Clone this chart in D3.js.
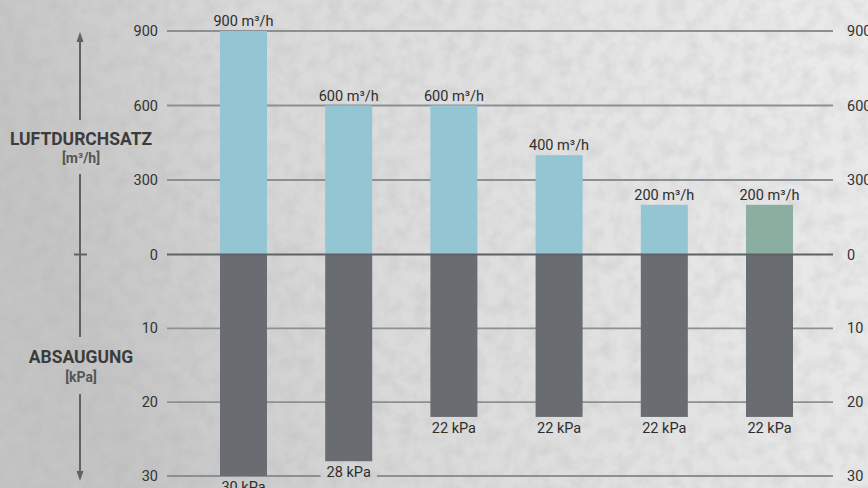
<!DOCTYPE html>
<html>
<head>
<meta charset="utf-8">
<script src="https://cdn.jsdelivr.net/npm/d3@7"></script>
<style>
  html, body { margin: 0; padding: 0; background: #dcdcdc; }
  svg { display: block; font-family: Roboto, "DejaVu Sans", sans-serif; }
</style>
</head>
<body>
<svg id="chart" width="868" height="488"></svg>
<script>
// Chart data
const models = ['m1', 'm2', 'm3', 'm4', 'm5', 'm6'];
const airflow = [900, 600, 600, 400, 200, 200];      // m³/h
const suction = [30, 28, 22, 22, 22, 22];            // kPa
const airflowTicks = [0, 300, 600, 900];
const suctionTicks = [10, 20, 30];
const highlighted = ['m6'];

const W = 868, H = 488;
const gridX0 = 167, gridX1 = 833, zeroY = 254.5;

const svg = d3.select('#chart');

// Scales
const x = d3.scalePoint().domain(models).range([243.5, 769.5]);
const yUp = d3.scaleLinear().domain([0, 900]).range([zeroY, 31]);
const yDown = d3.scaleLinear().domain([0, 30]).range([zeroY, 476]);
const barW = 47;

// Background: concrete-ish texture
const defs = svg.append('defs');
const grad = defs.append('linearGradient').attr('id', 'bg').attr('x1', 0).attr('x2', 1).attr('y1', 0.2).attr('y2', 0);
grad.append('stop').attr('offset', 0).attr('stop-color', '#c4c4c4');
grad.append('stop').attr('offset', 0.3).attr('stop-color', '#d9d9d9');
grad.append('stop').attr('offset', 0.7).attr('stop-color', '#e5e5e5');
grad.append('stop').attr('offset', 1).attr('stop-color', '#ebebeb');

const noise = defs.append('filter').attr('id', 'noise').attr('x', 0).attr('y', 0).attr('width', 1).attr('height', 1);
noise.append('feTurbulence').attr('type', 'fractalNoise').attr('baseFrequency', 0.07).attr('numOctaves', 5).attr('seed', 7);
noise.append('feColorMatrix').attr('type', 'matrix')
  .attr('values', '0 0 0 0 0.4  0 0 0 0 0.4  0 0 0 0 0.4  0 0 0 -1.4 0.9');

svg.append('rect').attr('width', W).attr('height', H).attr('fill', 'url(#bg)');
svg.append('rect').attr('width', W).attr('height', H).attr('filter', 'url(#noise)').attr('opacity', 0.3);

const fmtFlow = v => `${v} m³/h`;
const fmtKpa = v => `${v} kPa`;

const flowLabels = models.map((m, i) => ({ x: x(m), y: yUp(airflow[i]) - 5, text: fmtFlow(airflow[i]) }));
const kpaLabels = models.map((m, i) => ({ x: x(m), y: yDown(suction[i]) + 16, text: fmtKpa(suction[i]) }));

// Mask for grid lines (cut around the kPa labels)
const mask = defs.append('mask').attr('id', 'gridMask').attr('maskUnits', 'userSpaceOnUse')
  .attr('x', 0).attr('y', 0).attr('width', W).attr('height', H);
mask.append('rect').attr('width', W).attr('height', H).attr('fill', '#fff');

// Grid lines
const grid = svg.append('g').attr('mask', 'url(#gridMask)');
grid.selectAll('line.up')
  .data(airflowTicks.filter(d => d > 0))
  .join('line')
    .attr('x1', gridX0).attr('x2', gridX1)
    .attr('y1', d => yUp(d)).attr('y2', d => yUp(d))
    .attr('stroke', '#8b9095').attr('stroke-width', 1.8);
grid.selectAll('line.down')
  .data(suctionTicks)
  .join('line')
    .attr('x1', gridX0).attr('x2', gridX1)
    .attr('y1', d => yDown(d)).attr('y2', d => yDown(d))
    .attr('stroke', '#8b9095').attr('stroke-width', 1.8);

// Bars
svg.append('g').selectAll('rect')
  .data(models)
  .join('rect')
    .attr('x', d => x(d) - barW / 2)
    .attr('width', barW)
    .attr('y', (d, i) => yUp(airflow[i]))
    .attr('height', (d, i) => zeroY - yUp(airflow[i]))
    .attr('fill', d => highlighted.includes(d) ? '#8aaea0' : '#93c5d3');

svg.append('g').selectAll('rect')
  .data(models)
  .join('rect')
    .attr('x', d => x(d) - barW / 2)
    .attr('width', barW)
    .attr('y', zeroY)
    .attr('height', (d, i) => yDown(suction[i]) - zeroY)
    .attr('fill', '#696c71');

// Zero line
svg.append('line')
  .attr('x1', gridX0).attr('x2', gridX1)
  .attr('y1', zeroY).attr('y2', zeroY)
  .attr('stroke', '#5e6166').attr('stroke-width', 2);

// Value labels
const labels = svg.append('g')
  .attr('font-size', 14.5).attr('fill', '#2e2e2e').attr('text-anchor', 'middle');
labels.selectAll('text.flow')
  .data(flowLabels)
  .join('text')
    .attr('class', 'flow')
    .attr('x', d => d.x).attr('y', d => d.y)
    .text(d => d.text);
labels.selectAll('text.kpa')
  .data(kpaLabels)
  .join('text')
    .attr('class', 'kpa')
    .attr('x', d => d.x).attr('y', d => d.y)
    .text(d => d.text)
    .each(function () {
      const b = this.getBBox();
      mask.append('rect')
        .attr('x', b.x - 6).attr('y', b.y)
        .attr('width', b.width + 12).attr('height', b.height)
        .attr('fill', '#000');
    });

// Tick labels, both sides
const tickData = [
  ...airflowTicks.map(v => ({ y: yUp(v), text: v })),
  ...suctionTicks.map(v => ({ y: yDown(v), text: v }))
];
const ticks = svg.append('g').attr('font-size', 14.5).attr('fill', '#333');
ticks.selectAll('text.l')
  .data(tickData)
  .join('text')
    .attr('class', 'l')
    .attr('x', 158).attr('y', d => d.y)
    .attr('dy', '0.35em').attr('text-anchor', 'end')
    .text(d => d.text);
ticks.selectAll('text.r')
  .data(tickData)
  .join('text')
    .attr('class', 'r')
    .attr('x', 847).attr('y', d => d.y)
    .attr('dy', '0.35em').attr('text-anchor', 'start')
    .text(d => d.text);

// Left axis arrows
const axisX = 80;
const axis = svg.append('g').attr('stroke', '#5f6266').attr('stroke-width', 2).attr('fill', 'none');
axis.append('line').attr('x1', axisX).attr('x2', axisX).attr('y1', 40).attr('y2', 120);
axis.append('line').attr('x1', axisX).attr('x2', axisX).attr('y1', 174).attr('y2', 337);
axis.append('line').attr('x1', axisX).attr('x2', axisX).attr('y1', 394).attr('y2', 472);
axis.append('line').attr('x1', 74).attr('x2', 87).attr('y1', zeroY).attr('y2', zeroY);
svg.append('path')
  .attr('d', `M${axisX},32 L${axisX - 3.5},42 L${axisX + 3.5},42 Z`)
  .attr('fill', '#5f6266');
svg.append('path')
  .attr('d', `M${axisX},481 L${axisX - 3.5},471 L${axisX + 3.5},471 Z`)
  .attr('fill', '#5f6266');

// Axis titles
const titles = svg.append('g').attr('text-anchor', 'middle').attr('font-weight', 700);
titles.append('text').attr('x', 81).attr('y', 145)
  .attr('font-size', 17.5).attr('fill', '#3c3c3c').text('LUFTDURCHSATZ');
titles.append('text').attr('x', 81).attr('y', 163)
  .attr('font-size', 14).attr('fill', '#555').text('[m³/h]');
titles.append('text').attr('x', 81).attr('y', 363)
  .attr('font-size', 17.5).attr('fill', '#3c3c3c').text('ABSAUGUNG');
titles.append('text').attr('x', 81).attr('y', 382)
  .attr('font-size', 14).attr('fill', '#555').text('[kPa]');
</script>
</body>
</html>
